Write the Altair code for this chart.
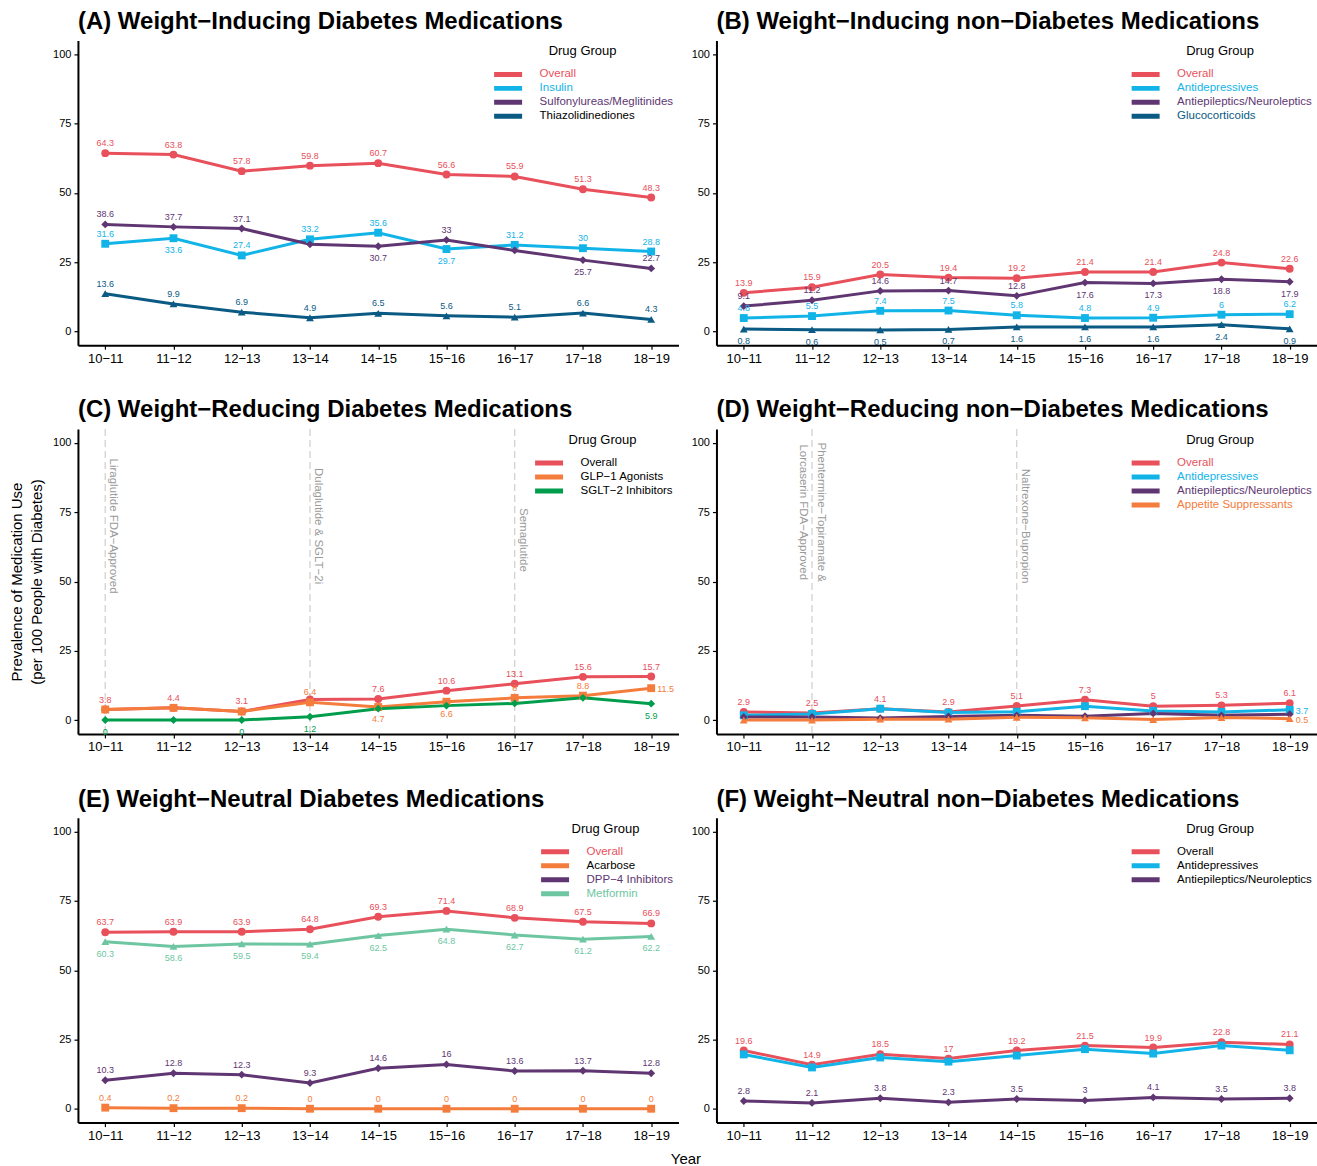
import altair as alt
import pandas as pd

# ---- shared categories -------------------------------------------------------
years = ["10−11", "11−12", "12−13", "13−14", "14−15", "15−16", "16−17", "17−18", "18−19"]

# ---- (A) weight-inducing diabetes medications --------------------------------
a_overall = [64.3, 63.8, 57.8, 59.8, 60.7, 56.6, 55.9, 51.3, 48.3]
a_insulin = [31.6, 33.6, 27.4, 33.2, 35.6, 29.7, 31.2, 30.0, 28.8]
a_sulfonylureas = [38.6, 37.7, 37.1, 31.4, 30.7, 33.0, 29.2, 25.7, 22.7]
a_thiazolidinediones = [13.6, 9.9, 6.9, 4.9, 6.5, 5.6, 5.1, 6.6, 4.3]

# ---- (B) weight-inducing non-diabetes medications ----------------------------
b_overall = [13.9, 15.9, 20.5, 19.4, 19.2, 21.4, 21.4, 24.8, 22.6]
b_antidepressives = [4.8, 5.5, 7.4, 7.5, 5.8, 4.8, 4.9, 6.0, 6.2]
b_antiepileptics = [9.1, 11.2, 14.6, 14.7, 12.8, 17.6, 17.3, 18.8, 17.9]
b_glucocorticoids = [0.8, 0.6, 0.5, 0.7, 1.6, 1.6, 1.6, 2.4, 0.9]

# ---- (C) weight-reducing diabetes medications --------------------------------
c_overall = [3.8, 4.4, 3.1, 7.4, 7.6, 10.6, 13.1, 15.6, 15.7]
c_glp1 = [3.8, 4.4, 3.1, 6.4, 4.7, 6.6, 8.0, 8.8, 11.5]
c_sglt2 = [0.0, 0.0, 0.0, 1.2, 4.1, 5.2, 6.0, 8.0, 5.9]
c_events = ["Liraglutide FDA−Approved", "Dulaglutide & SGLT−2i", "Semaglutide"]
c_event_years = ["10−11", "13−14", "16−17"]

# ---- (D) weight-reducing non-diabetes medications ----------------------------
d_overall = [2.9, 2.5, 4.1, 2.9, 5.1, 7.3, 5.0, 5.3, 6.1]
d_antidepressives = [1.7, 2.2, 4.1, 2.7, 3.0, 5.0, 3.3, 2.9, 3.7]
d_antiepileptics = [1.1, 1.1, 0.7, 1.3, 1.7, 1.4, 2.4, 1.7, 2.1]
d_appetite = [0.0, 0.0, 0.3, 0.3, 1.0, 0.8, 0.2, 0.9, 0.5]
d_events = ["Phentermine−Topiramate &\nLorcaserin FDA−Approved", "Naltrexone−Bupropion"]
d_event_years = ["11−12", "14−15"]

# ---- (E) weight-neutral diabetes medications ---------------------------------
e_overall = [63.7, 63.9, 63.9, 64.8, 69.3, 71.4, 68.9, 67.5, 66.9]
e_acarbose = [0.4, 0.2, 0.2, 0.0, 0.0, 0.0, 0.0, 0.0, 0.0]
e_dpp4 = [10.3, 12.8, 12.3, 9.3, 14.6, 16.0, 13.6, 13.7, 12.8]
e_metformin = [60.3, 58.6, 59.5, 59.4, 62.5, 64.8, 62.7, 61.2, 62.2]

# ---- (F) weight-neutral non-diabetes medications -----------------------------
f_overall = [21.0, 15.9, 19.7, 18.1, 21.0, 22.8, 22.1, 24.0, 23.2]
f_antidepressives = [19.6, 14.9, 18.5, 17.0, 19.2, 21.5, 19.9, 22.8, 21.1]
f_antiepileptics = [2.8, 2.1, 3.8, 2.3, 3.5, 3.0, 4.1, 3.5, 3.8]

# ---- styling -----------------------------------------------------------------
FONT = "Liberation Sans"
RED = "#E8505B"
CYAN = "#12B4E8"
PURPLE = "#603672"
NAVY = "#0A5A84"
ORANGE = "#F47C3C"
GREEN = "#009E4C"
MINT = "#6DC6A1"
SHAPES = ["circle", "square", "diamond", "triangle-up"]

W, H = 601, 305

A, B, R, N = "above", "below", "right", "none"


def fmt(v):
    return f"{v:g}"


def legend_color_expr(label_colors):
    expr = "'black'"
    for name, col in reversed(list(label_colors.items())):
        expr = f"datum.label == '{name}' ? '{col}' : ({expr})"
    return expr


def panel(title, series, colors, placement, label_colors,
          label_text=None, events=None, y_title=None, x_title=False):
    label_text = label_text or {}
    names = [s[0] for s in series]
    rows = []
    for name, vals in series:
        texts = label_text.get(name, vals)
        pos = placement[name]
        for yr, v, t, p in zip(years, vals, texts, pos):
            rows.append({"year": yr, "series": name, "value": v,
                         "text": fmt(t), "pos": p})
    df = pd.DataFrame(rows)

    x_axis = alt.Axis(
        title="Year" if x_title else None,
        labelFontSize=13, labelColor="black", labelFont=FONT, labelPadding=3,
        tickSize=4, tickColor="black", tickWidth=1.2,
        domainColor="black", domainWidth=2, grid=False, labelAngle=0,
        titleFont=FONT, titleFontSize=15, titleFontWeight="normal",
        titleX=608, titleY=41, titleAnchor="start", titleAlign="center",
        titleBaseline="alphabetic",
    )
    y_axis = alt.Axis(
        title=y_title, values=[0, 25, 50, 75, 100],
        labelFontSize=11, labelColor="black", labelFont=FONT, labelPadding=3,
        tickSize=4, tickColor="black", tickWidth=1.2,
        domainColor="black", domainWidth=2, grid=False,
        titleFont=FONT, titleFontSize=15, titleFontWeight="normal",
        titlePadding=8, titleLineHeight=20,
    )
    x_scale = alt.Scale(type="point", domain=years, padding=0.4)
    y_scale = alt.Scale(domain=[-5, 105], nice=False, zero=False)
    x = alt.X("year:N", sort=years, scale=x_scale, axis=x_axis)
    y = alt.Y("value:Q", scale=y_scale, axis=y_axis)

    color_scale = alt.Scale(domain=names, range=colors)
    legend = alt.Legend(
        title="Drug Group", orient="top-right", offset=5,
        titleFont=FONT, titleFontSize=13, titleFontWeight="normal",
        titleColor="black", titleAnchor="middle", titlePadding=10,
        labelFont=FONT, labelFontSize=11.5,
        labelColor={"expr": legend_color_expr(label_colors)},
        symbolType="stroke", symbolSize=784, symbolStrokeWidth=5,
        clipHeight=12, rowPadding=2.0, labelOffset=15,
    )
    line_color = alt.Color("series:N", scale=color_scale, legend=legend, sort=names)
    mark_color = alt.Color("series:N", scale=color_scale, legend=None, sort=names)
    shape = alt.Shape("series:N", scale=alt.Scale(domain=names, range=SHAPES[:len(names)]),
                      legend=None)

    base = alt.Chart(df).encode(x=x, y=y)
    layers = []

    if events is not None:
        ev_df = pd.DataFrame({"year": events[0], "event": events[1], "ypos": events[2]})
        ev = alt.Chart(ev_df).encode(
            x=alt.X("year:N", sort=years, scale=x_scale, axis=x_axis))
        ev_y = alt.Y("ypos:Q", scale=y_scale, axis=y_axis)
        layers.append(
            ev.mark_rule(color="#D2D2D2", strokeWidth=1.3, strokeDash=[7, 4]).encode(
                y=alt.value(0), y2=alt.value(H))
        )
        single = ev.transform_filter("indexof(datum.event, '\\n') < 0")
        layers.append(
            single.mark_text(angle=90, align="center", baseline="bottom", dy=-3,
                             fontSize=11.5, font=FONT, color="#9A9A9A").encode(
                y=ev_y, text="event:N")
        )
        multi = ev.transform_filter("indexof(datum.event, '\\n') >= 0")
        layers.append(
            multi.mark_text(angle=90, align="center", baseline="middle", dy=-9,
                            lineBreak="\n", lineHeight=18,
                            fontSize=11.5, font=FONT, color="#9A9A9A").encode(
                y=ev_y, text="event:N")
        )

    layers.append(base.mark_line(strokeWidth=3).encode(color=line_color))
    layers.append(base.mark_point(filled=True, size=62, opacity=1).encode(
        color=mark_color, shape=shape))

    txt = dict(fontSize=9, font=FONT)
    layers.append(base.transform_filter(f"datum.pos == '{A}'").mark_text(
        dy=-10, **txt).encode(text="text:N", color=mark_color))
    layers.append(base.transform_filter(f"datum.pos == '{B}'").mark_text(
        dy=12, **txt).encode(text="text:N", color=mark_color))
    layers.append(base.transform_filter(f"datum.pos == '{R}'").mark_text(
        align="left", dx=6, dy=1, **txt).encode(text="text:N", color=mark_color))

    return alt.layer(*layers).resolve_scale(color="independent").properties(
        width=W, height=H,
        title=alt.TitleParams(title, anchor="start", font=FONT, fontSize=24,
                              fontWeight="bold", color="black", offset=6,
                              frame="group"),
    )


pA = panel(
    "(A) Weight−Inducing Diabetes Medications",
    [("Overall", a_overall), ("Insulin", a_insulin),
     ("Sulfonylureas/Meglitinides", a_sulfonylureas),
     ("Thiazolidinediones", a_thiazolidinediones)],
    [RED, CYAN, PURPLE, NAVY],
    {"Overall": [A] * 9,
     "Insulin": [A, B, A, A, A, B, A, A, A],
     "Sulfonylureas/Meglitinides": [A, A, A, N, B, A, N, B, A],
     "Thiazolidinediones": [A] * 9},
    {"Overall": RED, "Insulin": CYAN, "Sulfonylureas/Meglitinides": PURPLE},
)

pB = panel(
    "(B) Weight−Inducing non−Diabetes Medications",
    [("Overall", b_overall), ("Antidepressives", b_antidepressives),
     ("Antiepileptics/Neuroleptics", b_antiepileptics),
     ("Glucocorticoids", b_glucocorticoids)],
    [RED, CYAN, PURPLE, NAVY],
    {"Overall": [A] * 9,
     "Antidepressives": [A] * 9,
     "Antiepileptics/Neuroleptics": [A, A, A, A, A, B, B, B, B],
     "Glucocorticoids": [B] * 9},
    {"Overall": RED, "Antidepressives": CYAN,
     "Antiepileptics/Neuroleptics": PURPLE, "Glucocorticoids": NAVY},
)

pC = panel(
    "(C) Weight−Reducing Diabetes Medications",
    [("Overall", c_overall), ("GLP−1 Agonists", c_glp1),
     ("SGLT−2 Inhibitors", c_sglt2)],
    [RED, ORANGE, GREEN],
    {"Overall": [A, A, A, N, A, A, A, A, A],
     "GLP−1 Agonists": [N, N, N, A, B, B, A, A, R],
     "SGLT−2 Inhibitors": [B, N, B, B, N, N, N, N, B]},
    {},
    events=(c_event_years, c_events, [70, 70, 65]),
    y_title=["Prevalence of Medication Use", "(per 100 People with Diabetes)"],
)

pD = panel(
    "(D) Weight−Reducing non−Diabetes Medications",
    [("Overall", d_overall), ("Antidepressives", d_antidepressives),
     ("Antiepileptics/Neuroleptics", d_antiepileptics),
     ("Appetite Suppressants", d_appetite)],
    [RED, CYAN, PURPLE, ORANGE],
    {"Overall": [A] * 9,
     "Antidepressives": [N] * 8 + [R],
     "Antiepileptics/Neuroleptics": [N] * 9,
     "Appetite Suppressants": [N] * 8 + [R]},
    {"Overall": RED, "Antidepressives": CYAN,
     "Antiepileptics/Neuroleptics": PURPLE, "Appetite Suppressants": ORANGE},
    events=(d_event_years, d_events, [75, 70]),
)

pE = panel(
    "(E) Weight−Neutral Diabetes Medications",
    [("Overall", e_overall), ("Acarbose", e_acarbose),
     ("DPP−4 Inhibitors", e_dpp4), ("Metformin", e_metformin)],
    [RED, ORANGE, PURPLE, MINT],
    {"Overall": [A] * 9, "Acarbose": [A] * 9,
     "DPP−4 Inhibitors": [A] * 9, "Metformin": [B] * 9},
    {"Overall": RED, "DPP−4 Inhibitors": PURPLE, "Metformin": MINT},
    x_title=True,
)

# the red value labels in this panel carry the antidepressive series' values
pF = panel(
    "(F) Weight−Neutral non−Diabetes Medications",
    [("Overall", f_overall), ("Antidepressives", f_antidepressives),
     ("Antiepileptics/Neuroleptics", f_antiepileptics)],
    [RED, CYAN, PURPLE],
    {"Overall": [A] * 9, "Antidepressives": [N] * 9,
     "Antiepileptics/Neuroleptics": [A] * 9},
    {},
    label_text={"Overall": f_antidepressives},
)

chart = alt.concat(
    pA, pB, pC, pD, pE, pF,
    columns=2, spacing={"row": 84, "column": 38}, bounds="flush",
).resolve_scale(
    color="independent", shape="independent"
).resolve_legend(
    color="independent", shape="independent"
).properties(
    padding={"left": 9, "top": 10, "right": 0, "bottom": 0},
    background="white",
).configure_view(stroke=None)

chart.save("out.html", embed_options={"renderer": "svg", "actions": False})
